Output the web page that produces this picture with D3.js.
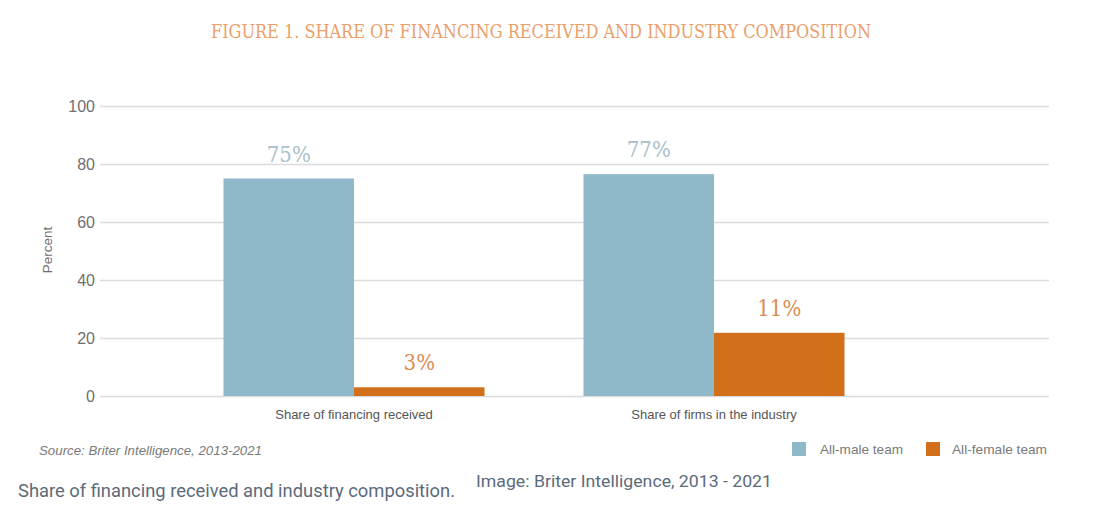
<!DOCTYPE html>
<head>
<meta charset="utf-8">
<title>Share of financing received and industry composition</title>
<script type="text/javascript" src="https://d3js.org/d3.v7.min.js"></script>
<style>
body { margin: 0; background: #fff; }
</style>
</head>
<body>
<div id="container"></div>
<script>
//*******************
//data
//*******************
const categories = ["Share of financing received", "Share of firms in the industry"];
const series = ["All-male team", "All-female team"];
// bar heights as drawn in the picture
const maleValues = [75, 76.5];
const femaleValues = [3, 21.8];
// labels printed above the bars
const maleLabels = ["75%", "77%"];
const femaleLabels = ["3%", "11%"];
const yTicks = [0, 20, 40, 60, 80, 100];

const colors = {"All-male team": "#8fb8c9", "All-female team": "#d26f1b"};
const labelColors = {"All-male team": "#a8c0cb", "All-female team": "#dc8c52"};

//*******************
//setup svg
//*******************
const width = 1097;
const height = 507;
const gridLeft = 100, gridRight = 1049;

const svg = d3.select("div#container").append("svg")
    .attr("width", width)
    .attr("height", height);

const yScale = d3.scaleLinear().domain([0, 100]).range([396, 106]);

const xScale = d3.scaleBand()
    .domain(categories)
    .range([174, 894])
    .paddingInner(0.275)
    .paddingOuter(0.1375);

const xSub = d3.scaleBand()
    .domain(series)
    .range([0, xScale.bandwidth()]);

//*******************
//title
//*******************
svg.append("text")
    .attr("x", 541)
    .attr("y", 38)
    .attr("text-anchor", "middle")
    .attr("textLength", 660)
    .attr("lengthAdjust", "spacingAndGlyphs")
    .style("font-family", "DejaVu Serif Condensed, DejaVu Serif")
    .style("font-size", "19px")
    .style("font-weight", "300")
    .style("fill", "#eaa06c")
    .text("FIGURE 1. SHARE OF FINANCING RECEIVED AND INDUSTRY COMPOSITION");

//*******************
//grid + y axis
//*******************
const yaxis = d3.axisLeft(yScale)
    .tickValues(yTicks)
    .tickSize(-(gridRight - gridLeft))
    .tickPadding(8);

const yg = svg.append("g")
    .attr("transform", "translate(" + gridLeft + ",0)")
    .call(yaxis);
yg.select(".domain").remove();
yg.selectAll(".tick line")
    .attr("stroke", "#dcdcdf")
    .attr("stroke-width", 1.3);
yg.selectAll(".tick text")
    .attr("x", -5)
    .style("font-family", "Liberation Sans, Arial")
    .style("font-size", "16px")
    .style("fill", "#6f6f6f");

svg.append("text")
    .attr("transform", "translate(52,250) rotate(-90)")
    .attr("text-anchor", "middle")
    .style("font-family", "Liberation Sans, Arial")
    .style("font-size", "13.5px")
    .style("fill", "#6f6f6f")
    .text("Percent");

//*******************
//bars
//*******************
const rows = categories.map(function(c, i) {
    return [
        {cat: c, key: series[0], value: maleValues[i], label: maleLabels[i]},
        {cat: c, key: series[1], value: femaleValues[i], label: femaleLabels[i]}
    ];
});

const groups = svg.selectAll(".group")
    .data(rows)
    .enter()
    .append("g")
    .attr("class", "group")
    .attr("transform", function(d) { return "translate(" + xScale(d[0].cat) + ",0)"; });

groups.selectAll("rect")
    .data(function(d) { return d; })
    .enter()
    .append("rect")
    .attr("x", function(d) { return xSub(d.key); })
    .attr("width", xSub.bandwidth())
    .attr("y", function(d) { return yScale(d.value); })
    .attr("height", function(d) { return yScale(0) - yScale(d.value); })
    .attr("fill", function(d) { return colors[d.key]; });

groups.selectAll("text.val")
    .data(function(d) { return d; })
    .enter()
    .append("text")
    .attr("class", "val")
    .attr("x", function(d) { return xSub(d.key) + xSub.bandwidth() / 2; })
    .attr("y", function(d) { return yScale(d.value) - 17; })
    .attr("text-anchor", "middle")
    .style("font-family", "DejaVu Serif Condensed, DejaVu Serif")
    .style("font-size", "22px")
    .style("font-weight", "300")
    .style("fill", function(d) { return labelColors[d.key]; })
    .text(function(d) { return d.label; });

//*******************
//x axis labels
//*******************
const xaxis = d3.axisBottom(xScale).tickSize(0).tickPadding(14);
const xg = svg.append("g")
    .attr("transform", "translate(0," + yScale(0) + ")")
    .call(xaxis);
xg.select(".domain").remove();
xg.selectAll(".tick text")
    .style("font-family", "Liberation Sans, Arial")
    .style("font-size", "13px")
    .style("fill", "#555");

//*******************
//source + legend
//*******************
svg.append("text")
    .attr("x", 39)
    .attr("y", 455)
    .attr("textLength", 223)
    .attr("lengthAdjust", "spacingAndGlyphs")
    .style("font-family", "Liberation Sans, Arial")
    .style("font-size", "13px")
    .style("font-style", "italic")
    .style("fill", "#7a7a7a")
    .text("Source: Briter Intelligence, 2013-2021");

const legendX = [792, 926];
const legendTextW = [83, 95];
const legend = svg.selectAll(".legend")
    .data(series)
    .enter()
    .append("g")
    .attr("class", "legend")
    .attr("transform", function(d, i) { return "translate(" + legendX[i] + ",442)"; });

legend.append("rect")
    .attr("width", 14)
    .attr("height", 14)
    .attr("fill", function(d) { return colors[d]; });

legend.append("text")
    .attr("x", function(d, i) { return i === 0 ? 28 : 26; })
    .attr("y", 12)
    .attr("textLength", function(d, i) { return legendTextW[i]; })
    .attr("lengthAdjust", "spacingAndGlyphs")
    .style("font-family", "Liberation Sans, Arial")
    .style("font-size", "13px")
    .style("fill", "#7a7a7a")
    .text(function(d) { return d; });

//*******************
//caption under image
//*******************
svg.append("text")
    .attr("x", 18)
    .attr("y", 497)
    .attr("textLength", 437)
    .attr("lengthAdjust", "spacingAndGlyphs")
    .style("font-family", "Roboto")
    .style("font-size", "18px")
    .style("fill", "#5b6b7b")
    .text("Share of financing received and industry composition.");

svg.append("text")
    .attr("x", 476)
    .attr("y", 487)
    .attr("textLength", 296)
    .attr("lengthAdjust", "spacingAndGlyphs")
    .style("font-family", "Roboto")
    .style("font-size", "17px")
    .style("fill", "#5b6b7b")
    .text("Image: Briter Intelligence, 2013 - 2021");
</script>
</body>
